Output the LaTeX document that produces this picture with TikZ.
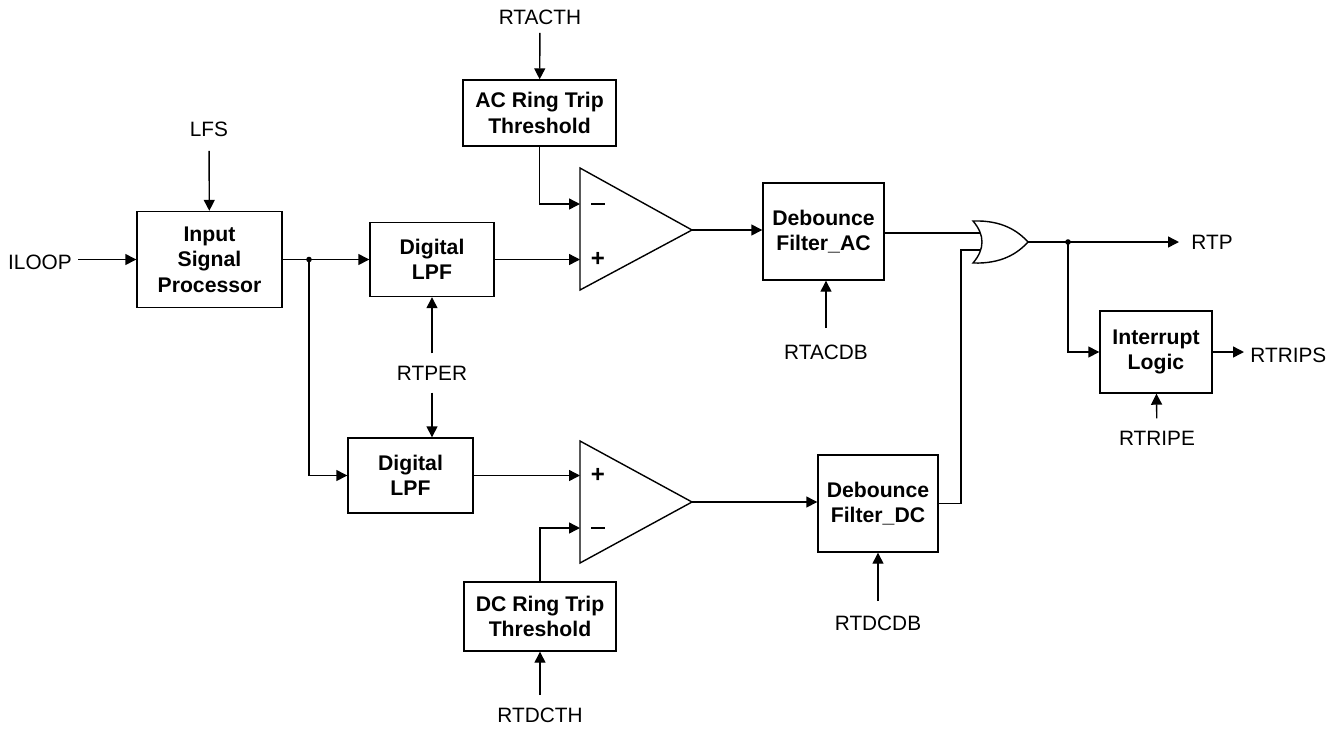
\documentclass[tikz,border=0pt]{standalone}
\usepackage{fontspec}
\setmainfont{Liberation Sans}
\usetikzlibrary{arrows.meta,calc}

\begin{document}
\begin{tikzpicture}[x=0.5pt,y=-0.5pt,
  every node/.style={font=\fontsize{10.4}{12.8}\selectfont},
  block/.style={draw,line width=0.7pt,align=center,inner sep=0pt,
    font=\fontsize{10.6}{12.8}\selectfont\bfseries},
  lbl/.style={inner sep=3pt},
  sgn/.style={inner sep=0pt,font=\fontsize{12}{12}\selectfont\bfseries},
  wire/.style={line width=0.7pt},
  arr/.style={wire,-{Triangle[length=5.5pt,width=5.5pt]}}]
\useasboundingbox (0,0) rectangle (1341,730);

\node[block,minimum width=72.5pt,minimum height=48pt] (isp) at (209.5,259.5) {Input\\Signal\\Processor};
\node[block,minimum width=62pt,minimum height=37pt] (lpfA) at (432,259.5) {Digital\\LPF};
\node[block,minimum width=62.5pt,minimum height=37.5pt] (lpfB) at (410.5,475.5) {Digital\\LPF};
\node[block,minimum width=76.5pt,minimum height=33pt] (acth) at (539.5,113) {AC Ring Trip\\Threshold};
\node[block,minimum width=76pt,minimum height=34.5pt] (dcth) at (540,616.5) {DC Ring Trip\\Threshold};
\node[block,minimum width=60.5pt,minimum height=48.5pt] (dbAC) at (823.5,231.5) {Debounce\\Filter\_AC};
\node[block,minimum width=60pt,minimum height=48.5pt] (dbDC) at (878,503.5) {Debounce\\Filter\_DC};
\node[block,minimum width=56pt,minimum height=41pt] (intr) at (1156,352) {Interrupt\\Logic};

\node[lbl] (iloop) at (40,262) {ILOOP};
\node[lbl] (lfs) at (209,129) {LFS};
\node[lbl] (rtacth) at (540,17) {RTACTH};
\node[lbl] (rtper) at (432,373) {RTPER};
\node[lbl] (rtacdb) at (826,352) {RTACDB};
\node[lbl] (rtdcdb) at (878,623) {RTDCDB};
\node[lbl] (rtdcth) at (540,715) {RTDCTH};
\node[lbl] (rtripe) at (1157,438) {RTRIPE};
\node[lbl,anchor=west] (rtp) at (1185,242) {RTP};
\node[lbl,anchor=west] (rtrips) at (1244,355) {RTRIPS};

% comparators
\draw[wire] (580,168) -- (692,230) -- (580,290) -- cycle;
\coordinate (cmpAm) at (580,204);
\coordinate (cmpAp) at (580,259.5);
\coordinate (cmpAo) at (692,230);
\node[sgn] (sgnA1) at (598,204) {\rule{7pt}{1.4pt}};
\node[sgn] (sgnA2) at (598,259) {+};

\draw[wire] (580,441) -- (692,502) -- (580,563) -- cycle;
\coordinate (cmpBp) at (580,475.5);
\coordinate (cmpBm) at (580,528);
\coordinate (cmpBo) at (692,502);
\node[sgn] (sgnB1) at (598,475) {+};
\node[sgn] (sgnB2) at (598,528) {\rule{7pt}{1.4pt}};

% or gate
\draw[wire] (973,221) .. controls (985,235) and (985,249) .. (973,263)
  .. controls (1002,264) and (1018,253) .. (1028,242)
  .. controls (1018,231) and (1002,220) .. (973,221) -- cycle;
\coordinate (orA) at (980,233);
\coordinate (orB) at (980,250);
\coordinate (orOut) at (1028,242);
\coordinate (orBin) at (961,250);

\coordinate (split) at (309,259.5);
\coordinate (tap) at (1068,242);

\draw[arr] (iloop.east |- isp.west) -- (isp.west);
\draw[arr,shorten <=4pt] (lfs) -- (isp);
\draw[arr,shorten <=1pt] (rtacth) -- (acth);
\draw[arr,shorten <=3pt] (rtper) -- (lpfA);
\draw[arr,shorten <=3pt] (rtper.south) -- (rtper.south |- lpfB.north);
\draw[arr,shorten <=5pt] (rtacdb.north) -- (rtacdb.north |- dbAC.south);
\draw[arr,shorten <=4pt] (rtdcdb) -- (dbDC);
\draw[arr,shorten <=3pt] (rtdcth) -- (dcth);
\draw[arr,shorten <=3pt] (rtripe) -- (intr);

\draw[arr] (isp.east) -- (lpfA.west);
\fill (split) circle (1.4pt);
\draw[arr] (split) |- (lpfB.west);
\draw[arr] (lpfA.east) -- (cmpAp);
\draw[arr] (acth.south) |- (cmpAm);
\draw[arr] (lpfB.east) -- (cmpBp);
\draw[arr] (dcth.north) |- (cmpBm);
\draw[arr] (cmpAo) -- (cmpAo -| dbAC.west);
\draw[arr] (cmpBo) -- (cmpBo -| dbDC.west);
\draw[wire] (dbAC.east |- orA) -- (orA);
\draw[wire] (dbDC.east) -| (orBin) -- (orB);
\draw[wire] (orOut) -- (tap);
\fill (tap) circle (1.4pt);
\draw[arr,shorten >=3pt] (tap) -- (tap -| rtp.west);
\draw[arr] (tap) |- (intr.west);
\draw[arr] (intr.east) -- (intr.east -| rtrips.west);
\end{tikzpicture}
\end{document}
